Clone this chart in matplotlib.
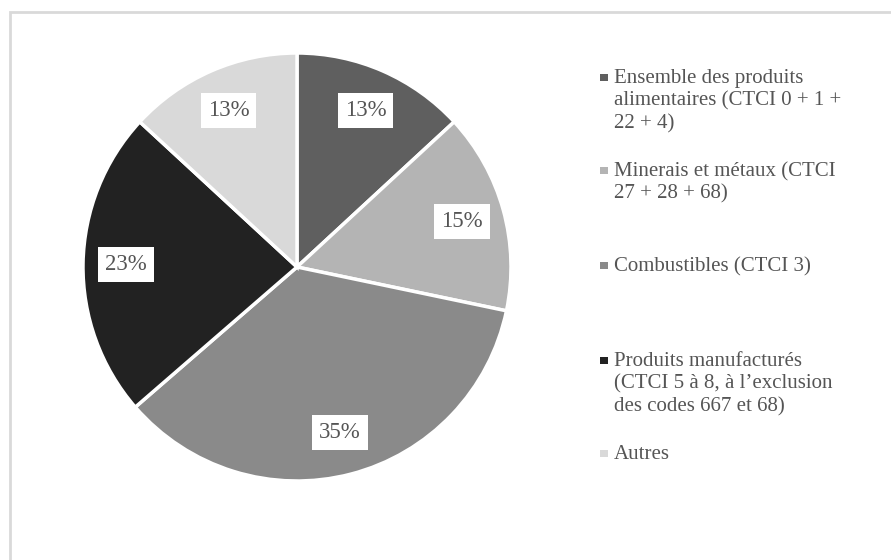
import matplotlib
matplotlib.use("Agg")
import matplotlib.pyplot as plt
from matplotlib.patches import Rectangle

# Répartition des exportations par groupe de produits (%)
categories = [
    "Ensemble des produits\nalimentaires (CTCI 0 + 1 +\n22 + 4)",
    "Minerais et métaux (CTCI\n27 + 28 + 68)",
    "Combustibles (CTCI 3)",
    "Produits manufacturés\n(CTCI 5 à 8, à l\u2019exclusion\ndes codes 667 et 68)",
    "Autres",
]
shares = [13, 15, 35, 23, 13]
colors = ["#5f5f5f", "#b4b4b4", "#8a8a8a", "#222222", "#d9d9d9"]

# hauteur (px depuis le haut) de la première ligne de chaque entrée de légende
legend_rows = [77, 170, 265, 360, 453]

W, H = 891, 560
plt.rcParams["font.family"] = ["Liberation Serif", "DejaVu Serif"]
TEXT = "#555555"

fig = plt.figure(figsize=(W / 100, H / 100), dpi=100)

# cadre gris clair autour du graphique
fig.patches.append(Rectangle((10 / W, -0.05), 1.0, 1 - 12 / H + 0.05,
                             transform=fig.transFigure, fill=False,
                             edgecolor="#d9d9d9", linewidth=2))

cx, cy, r = 297, 267, 214
ax = fig.add_axes([(cx - r) / W, 1 - (cy + r) / H, 2 * r / W, 2 * r / H])
wedges, texts, autotexts = ax.pie(
    shares, colors=colors, startangle=90, counterclock=False,
    autopct=lambda p: "", pctdistance=0.8,
    wedgeprops=dict(edgecolor="white", linewidth=2.5),
)
for t, v in zip(autotexts, shares):
    t.set_text(f"{v}%")
    t.set_fontsize(16.5)
    t.set_color(TEXT)
    t.set_bbox(dict(facecolor="white", edgecolor="none", pad=5))
ax.set_xlim(-1, 1)
ax.set_ylim(-1, 1)
ax.set_aspect("auto")
ax.axis("off")

# légende à droite
for label, color, y in zip(categories, colors, legend_rows):
    fig.patches.append(Rectangle((600 / W, 1 - (y + 4) / H), 7.5 / W, 7.5 / H,
                                 transform=fig.transFigure, facecolor=color,
                                 edgecolor="none"))
    fig.text(614 / W, 1 - (y - 8) / H, label, fontsize=15, color=TEXT,
             va="top", ha="left", linespacing=1.24)

fig.savefig("out.png", dpi=100)
